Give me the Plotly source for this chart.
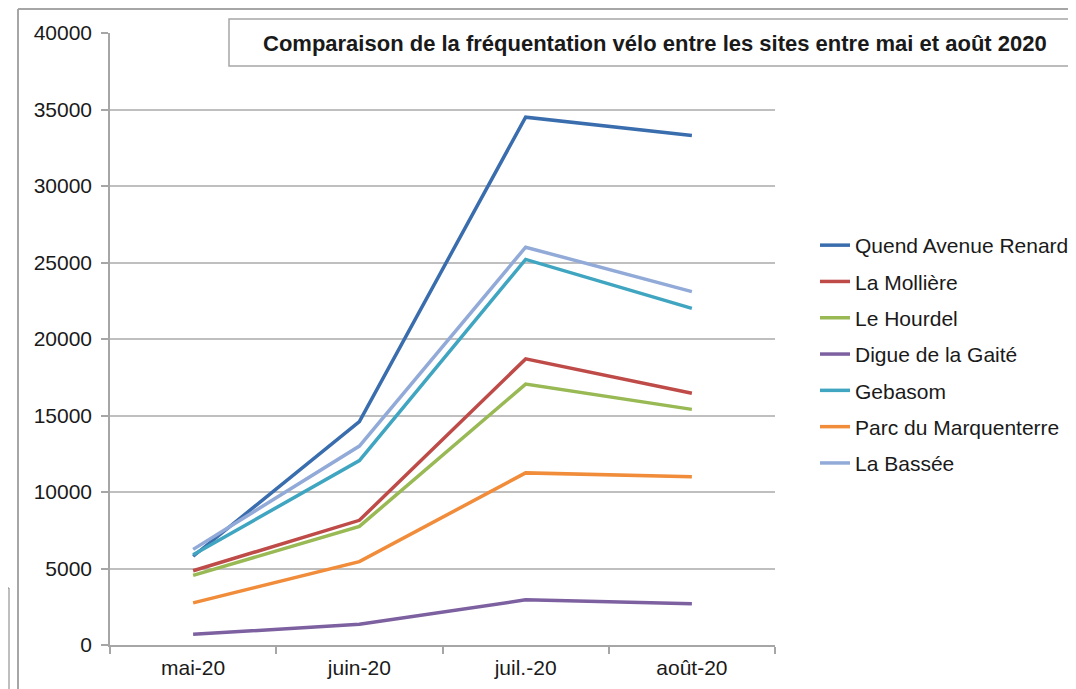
import plotly.graph_objects as go

months = ["mai-20", "juin-20", "juil.-20", "août-20"]
quend = [5800, 14600, 34500, 33300]
molliere = [4850, 8150, 18700, 16450]
hourdel = [4550, 7750, 17050, 15400]
digue = [700, 1350, 2950, 2700]
gebasom = [5900, 12050, 25200, 22000]
parc = [2750, 5450, 11250, 11000]
bassee = [6250, 13000, 26000, 23100]

series = [
    ("Quend Avenue Renard", quend, "#3A6DAD"),
    ("La Mollière", molliere, "#BE4B48"),
    ("Le Hourdel", hourdel, "#98B954"),
    ("Digue de la Gaité", digue, "#7D60A0"),
    ("Gebasom", gebasom, "#3FA5C0"),
    ("Parc du Marquenterre", parc, "#F08C3A"),
    ("La Bassée", bassee, "#92AAD8"),
]

title = "Comparaison de la fréquentation vélo entre les sites entre mai et août 2020"

# page offset (default body margin)
OFF = 8
W, H = 1076 - OFF, 689 - OFF
L, R, T, B = 110, 775, 33, 645  # page coordinates of the plot area

def px(x):
    return (x - L) / (R - L)

def py(y):
    return (B - y) / (B - T)

fig = go.Figure()
for i, (name, vals, col) in enumerate(series):
    fig.add_trace(go.Scatter(
        x=months, y=vals, name=name, mode="lines",
        line=dict(color=col, width=3.5),
        legendgroup=f"g{i}",
    ))

font = "Liberation Sans, Arial, sans-serif"
gray = "#BFBFBF"
shapes = [
    dict(type="line", xref="paper", yref="paper", x0=px(18), x1=px(1080), y0=py(9), y1=py(9),
         line=dict(color="#A6A6A6", width=2)),
    dict(type="line", xref="paper", yref="paper", x0=px(18), x1=px(18), y0=py(9), y1=py(692),
         line=dict(color="#A6A6A6", width=2)),
    dict(type="rect", xref="paper", yref="paper", x0=px(229), x1=px(1082), y0=py(66), y1=py(19),
         line=dict(color="#A6A6A6", width=1.5), fillcolor="white"),
    dict(type="line", xref="paper", yref="paper", x0=px(-5), x1=px(9), y0=py(588), y1=py(588),
         line=dict(color="#7F7F7F", width=1)),
    dict(type="line", xref="paper", yref="paper", x0=px(9), x1=px(9), y0=py(588), y1=py(692),
         line=dict(color="#7F7F7F", width=1)),
]

fig.update_layout(
    width=W, height=H,
    margin=dict(l=L - OFF, r=1076 - R, t=T - OFF, b=689 - B, autoexpand=False),
    paper_bgcolor="white", plot_bgcolor="white",
    font=dict(family=font, size=21, color="#1A1A1A"),
    showlegend=True,
    legend=dict(x=px(815), y=py(225), xanchor="left", yanchor="top",
                font=dict(size=21, color="#1A1A1A"), tracegroupgap=6,
                bgcolor="rgba(0,0,0,0)", itemwidth=30),
    shapes=shapes,
    annotations=[dict(text="<b>" + title + "</b>", xref="paper", yref="paper",
                      x=px(655), y=py(43), xanchor="center", yanchor="middle",
                      showarrow=False, font=dict(size=22, color="#1A1A1A", family=font))],
)
fig.update_xaxes(
    showgrid=False, showline=True, linecolor="#A6A6A6", linewidth=1.5,
    ticks="outside", tickson="boundaries", ticklen=7, tickcolor="#A6A6A6", tickwidth=1.5,
    tickfont=dict(size=21), range=[-0.5, 3.5], fixedrange=True, ticklabelstandoff=3,
)
fig.update_yaxes(
    range=[0, 40000], dtick=5000, showgrid=True, gridcolor=gray, gridwidth=1.5,
    showline=True, linecolor="#A6A6A6", linewidth=1.5,
    ticks="outside", ticklen=7, tickcolor="#A6A6A6", tickwidth=1.5,
    tickfont=dict(size=21), tickformat="d", zeroline=False, ticklabelstandoff=5,
)

fig.write_html("out.html")
